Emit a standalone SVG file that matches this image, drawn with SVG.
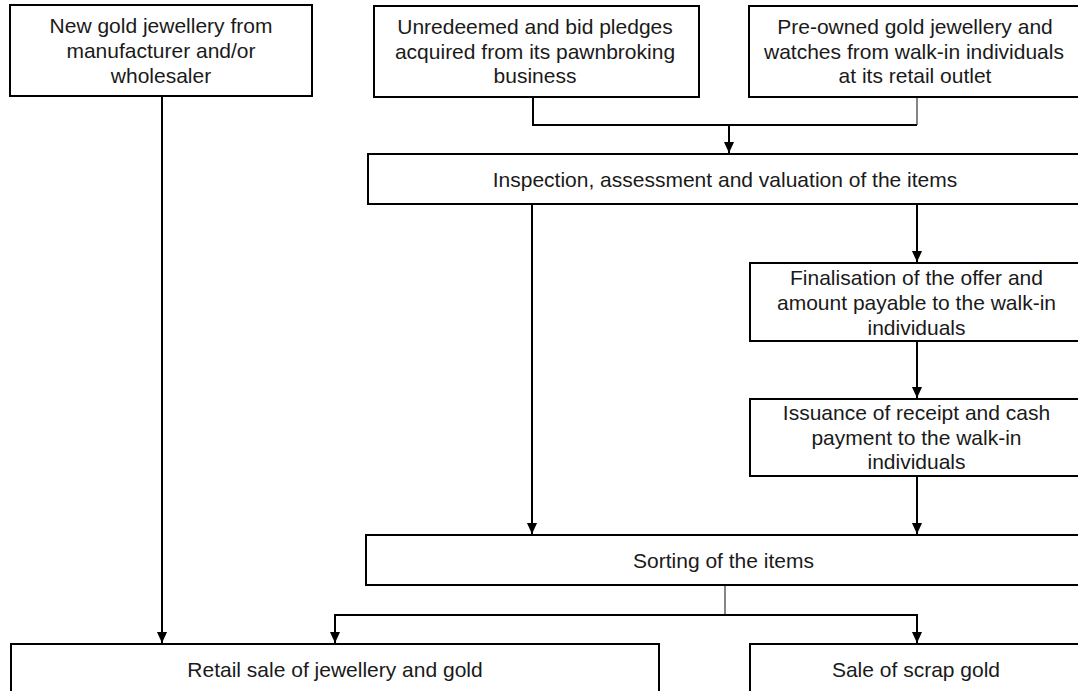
<svg xmlns="http://www.w3.org/2000/svg" width="1078" height="691" viewBox="0 0 1078 691">
<style>
.box{fill:#fff;stroke:#000;stroke-width:2}
.t{font-family:"Liberation Sans",Arial,sans-serif;font-size:21px;fill:#1a1a1a;text-anchor:middle}
.c{fill:none;stroke:#000;stroke-width:2}
.thin{fill:none;stroke:#333;stroke-width:1.2}
</style>
<defs>
<marker id="a" markerWidth="11" markerHeight="12" refX="12" refY="5.5" orient="auto" markerUnits="userSpaceOnUse" viewBox="0 0 12 11">
<path d="M0,0 L12,5.5 L0,11 Z" fill="#000"/>
</marker>
</defs>
<rect width="1078" height="691" fill="#fff"/>
<g id="connectors">
<path class="c" d="M533,97 V125 H917"/>
<path class="thin" d="M917,97 V125"/>
<path class="c" d="M729,125 V153" marker-end="url(#a)"/>
<path class="c" d="M162,96 V643" marker-end="url(#a)"/>
<path class="c" d="M532,204 V534" marker-end="url(#a)"/>
<path class="c" d="M917,204 V262" marker-end="url(#a)"/>
<path class="c" d="M917,341 V398" marker-end="url(#a)"/>
<path class="c" d="M917,476 V534" marker-end="url(#a)"/>
<path class="thin" d="M725,585 V615"/>
<path class="c" d="M335,643 V615 H917 V643"/>
<path class="c" d="M335,625 V643" marker-end="url(#a)"/>
<path class="c" d="M917,625 V643" marker-end="url(#a)"/>
</g>
<g id="n1"><rect class="box" x="10" y="5" width="302" height="91"/>
<text class="t" x="161" y="33">New gold jewellery from</text>
<text class="t" x="161" y="58">manufacturer and/or</text>
<text class="t" x="161" y="83">wholesaler</text></g>
<g id="n2"><rect class="box" x="374" y="6" width="325" height="91"/>
<text class="t" x="535" y="34">Unredeemed and bid pledges</text>
<text class="t" x="535" y="59">acquired from its pawnbroking</text>
<text class="t" x="535" y="83">business</text></g>
<g id="n3"><rect class="box" x="749" y="6" width="333" height="91"/>
<text class="t" x="915" y="34">Pre-owned gold jewellery and</text>
<text class="t" x="914" y="59">watches from walk-in individuals</text>
<text class="t" x="915" y="83">at its retail outlet</text></g>
<g id="n4"><rect class="box" x="368" y="154" width="714" height="50"/>
<text class="t" x="725" y="187">Inspection, assessment and valuation of the items</text></g>
<g id="n5"><rect class="box" x="750" y="263" width="333" height="78"/>
<text class="t" x="916.5" y="285">Finalisation of the offer and</text>
<text class="t" x="916.5" y="310">amount payable to the walk-in</text>
<text class="t" x="916.5" y="335">individuals</text></g>
<g id="n6"><rect class="box" x="750" y="399" width="333" height="77"/>
<text class="t" x="916.5" y="420">Issuance of receipt and cash</text>
<text class="t" x="916.5" y="445">payment to the walk-in</text>
<text class="t" x="916.5" y="469">individuals</text></g>
<g id="n7"><rect class="box" x="366" y="535" width="715" height="50"/>
<text class="t" x="723.5" y="568">Sorting of the items</text></g>
<g id="n8"><rect class="box" x="11" y="644" width="648" height="60"/>
<text class="t" x="335" y="677">Retail sale of jewellery and gold</text></g>
<g id="n9"><rect class="box" x="750" y="644" width="332" height="60"/>
<text class="t" x="916" y="677">Sale of scrap gold</text></g>
</svg>
